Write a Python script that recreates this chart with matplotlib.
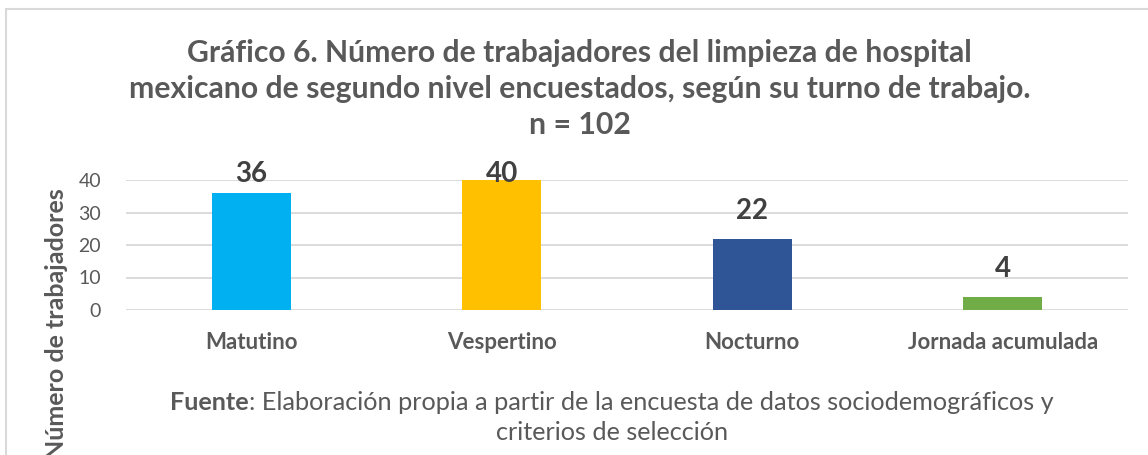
import matplotlib.pyplot as plt
from matplotlib.patches import Rectangle

# Datos del grafico
turnos = ["Matutino", "Vespertino", "Nocturno", "Jornada acumulada"]
trabajadores = [36, 40, 22, 4]
colores = ["#00B0F0", "#FFC000", "#2F5597", "#70AD47"]
yticks = [0, 10, 20, 30, 40]

titulo = ("Gráfico 6. Número de trabajadores del limpieza de hospital\n"
          "mexicano de segundo nivel encuestados, según su turno de trabajo.\n"
          "n = 102")

plt.rcParams['font.family'] = ['Lato', 'DejaVu Sans']
gris = "#595959"

W, H = 1148, 455
fig = plt.figure(figsize=(W / 100, H / 100), dpi=100)

# borde del area del grafico
fig.patches.append(Rectangle((6 / W, -0.1), 2, (H - 9) / H + 0.1, fill=False,
                             edgecolor="#D9D9D9", lw=1.5, transform=fig.transFigure))

ax = fig.add_axes([126 / W, 1 - 310 / H, (1128 - 126) / W, 130 / H])
x = range(len(turnos))
ax.bar(x, trabajadores, width=0.315, color=colores, zorder=3)
ax.set_xlim(-0.5, 3.5)
ax.set_ylim(0, 40)
ax.set_yticks(yticks)
ax.grid(axis="y", color="#D9D9D9", lw=1.3, zorder=0)
ax.set_axisbelow(True)
for s in ax.spines.values():
    s.set_visible(False)
ax.tick_params(length=0)
ax.tick_params(axis="y", labelsize=14, labelcolor=gris, pad=18)
ax.set_xticks(list(x))
ax.set_xticklabels(turnos, fontsize=16, fontweight="bold", color=gris)
ax.tick_params(axis="x", pad=16)

# etiquetas de valor (la del maximo queda dentro del area, como en Excel)
for i, v in enumerate(trabajadores):
    ax.text(i, min(v + 6.15, 39.4), str(v), ha="center", va="baseline",
            fontsize=20, fontweight="bold", color="#404040", clip_on=False, zorder=4)

fig.text(0.505, 1 - 89 / H, titulo, ha="center", va="center", fontsize=21.7,
         fontweight="bold", color=gris, linespacing=1.33)

fig.text(56 / W, 1 - 188 / H, "Número de trabajadores", rotation=90,
         ha="center", va="top", fontsize=18, fontweight="bold", color=gris)

# nota de fuente
t1 = fig.text(0, 1 - 403 / H, "Fuente", ha="left", va="center", fontsize=18.2,
              fontweight="bold", color=gris)
t2 = fig.text(0, 1 - 403 / H, ": Elaboración propia a partir de la encuesta de datos sociodemográficos y",
              ha="left", va="center", fontsize=18.2, color=gris)
fig.canvas.draw()
r = fig.canvas.get_renderer()
w1 = t1.get_window_extent(r).width
w2 = t2.get_window_extent(r).width
x0 = 612 - (w1 + w2) / 2
t1.set_x(x0 / W)
t2.set_x((x0 + w1) / W)
fig.text(612 / W, 1 - 433 / H, "criterios de selección", ha="center", va="center",
         fontsize=18.2, color=gris)

fig.savefig("out.png", dpi=100)
